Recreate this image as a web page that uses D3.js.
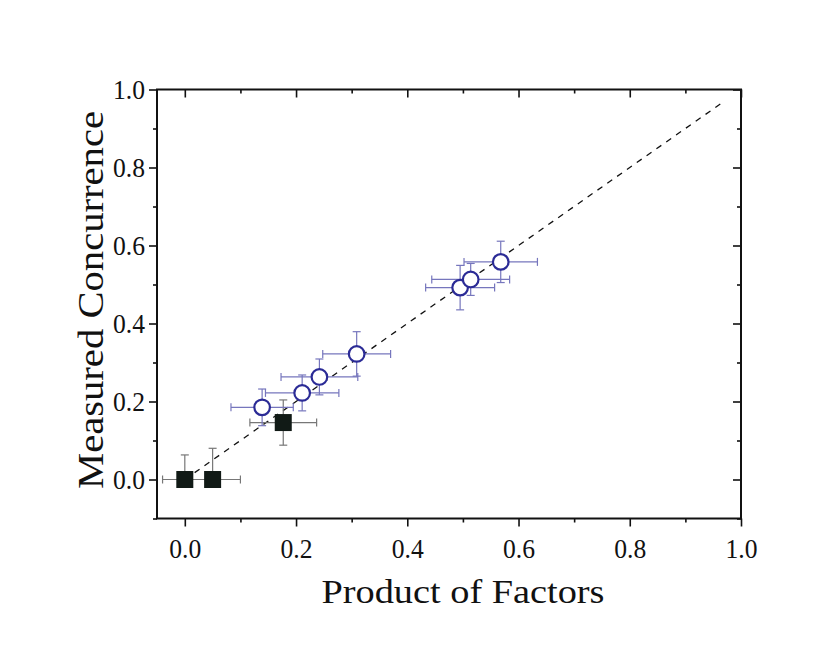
<!DOCTYPE html>
<html>
<head>
<meta charset="utf-8">
<script src="https://cdn.jsdelivr.net/npm/d3@7/dist/d3.min.js"></script>
<style>
  html, body { margin: 0; padding: 0; background: #fff; }
  svg text { font-family: "Liberation Serif", "DejaVu Serif", serif; fill: #111; }
</style>
</head>
<body>
<svg id="chart" width="830" height="668"></svg>
<script>
// ---- Data ----
// Filled squares
const sqX    = [0.000, 0.050, 0.177];
const sqY    = [0.000, 0.000, 0.146];
const sqXErr = [0.040, 0.050, 0.060];
const sqYUp  = [0.063, 0.080, 0.058];
const sqYDn  = [0.000, 0.000, 0.058];
// Open circles
const ciX    = [0.139, 0.211, 0.242, 0.309, 0.495, 0.514, 0.568];
const ciY    = [0.185, 0.222, 0.263, 0.322, 0.492, 0.513, 0.558];
const ciXErr = [0.056, 0.066, 0.069, 0.061, 0.062, 0.070, 0.066];
const ciYErr = [0.047, 0.046, 0.046, 0.057, 0.057, 0.041, 0.053];
// Reference line y = x
const lineX  = [0.0, 0.97];
// Ticks
const majorTicks = [0.0, 0.2, 0.4, 0.6, 0.8, 1.0];
const xMinor = [0.1, 0.3, 0.5, 0.7, 0.9];
const yMinor = [-0.1, 0.1, 0.3, 0.5, 0.7, 0.9];
const tickLabels = ["0.0", "0.2", "0.4", "0.6", "0.8", "1.0"];
const xTitle = "Product of Factors";
const yTitle = "Measured Concurrence";

// ---- Layout ----
const L = 157, R = 741, T = 89.5, B = 518.5;
const x = d3.scaleLinear().domain([-0.05, 1.0]).range([L, R]);
const y = d3.scaleLinear().domain([-0.1, 1.0]).range([B, T]);

const svg = d3.select("#chart");

function addAxis(axisGen, transform) {
  const g = svg.append("g").attr("transform", transform).call(axisGen);
  g.select(".domain").remove();
  g.attr("font-family", null).attr("font-size", null);
  g.selectAll("line").attr("stroke", "#111").attr("stroke-width", 1.6);
  return g;
}
const fmt = (d) => tickLabels[majorTicks.indexOf(d)] ?? "";

function styleLabels(g) {
  g.selectAll("text")
    .style("font-family", "'Liberation Serif', serif")
    .style("font-size", "27px")
    .style("fill", "#111")
    .attr("textLength", 32)
    .attr("lengthAdjust", "spacingAndGlyphs");
}

// bottom
const bx = addAxis(d3.axisBottom(x).tickValues(majorTicks).tickFormat(fmt).tickSize(8).tickPadding(0), `translate(0,${B})`);
styleLabels(bx);
bx.selectAll("text").attr("dy", null).attr("y", 39);
addAxis(d3.axisBottom(x).tickValues(xMinor).tickFormat("").tickSize(4), `translate(0,${B})`);
// left
const ly = addAxis(d3.axisLeft(y).tickValues(majorTicks).tickFormat(fmt).tickSize(8).tickPadding(4), `translate(${L},0)`);
styleLabels(ly);
ly.selectAll("text").attr("dy", "0.34em");
addAxis(d3.axisLeft(y).tickValues(yMinor).tickFormat("").tickSize(4), `translate(${L},0)`);
// top (inward)
addAxis(d3.axisBottom(x).tickValues(majorTicks).tickFormat("").tickSize(8), `translate(0,${T})`);
addAxis(d3.axisBottom(x).tickValues(xMinor).tickFormat("").tickSize(4), `translate(0,${T})`);
// right (inward)
addAxis(d3.axisLeft(y).tickValues(majorTicks).tickFormat("").tickSize(8), `translate(${R},0)`);
addAxis(d3.axisLeft(y).tickValues(yMinor).tickFormat("").tickSize(4), `translate(${R},0)`);

// Frame
svg.append("rect").attr("x", L).attr("y", T).attr("width", R - L).attr("height", B - T)
  .attr("fill", "none").attr("stroke", "#111").attr("stroke-width", 2);

// Dashed y = x line
svg.append("line")
  .attr("x1", x(lineX[0])).attr("y1", y(lineX[0]))
  .attr("x2", x(lineX[1])).attr("y2", y(lineX[1]))
  .attr("stroke", "#111").attr("stroke-width", 1.3).attr("stroke-dasharray", "6,6");

function errorBars(xs, ys, xl, xr, yd, yu, color) {
  const g = svg.append("g").attr("stroke", color).attr("stroke-width", 1.2).attr("fill", "none");
  const cap = 4;
  xs.forEach((xv, i) => {
    const cx = x(xv), cy = y(ys[i]);
    const x0 = x(xv - xl[i]), x1 = x(xv + xr[i]);
    const y0 = y(ys[i] - yd[i]), y1 = y(ys[i] + yu[i]);
    g.append("line").attr("x1", x0).attr("x2", x1).attr("y1", cy).attr("y2", cy);
    g.append("line").attr("x1", x0).attr("x2", x0).attr("y1", cy - cap).attr("y2", cy + cap);
    g.append("line").attr("x1", x1).attr("x2", x1).attr("y1", cy - cap).attr("y2", cy + cap);
    g.append("line").attr("x1", cx).attr("x2", cx).attr("y1", y0).attr("y2", y1);
    if (yu[i] > 0) g.append("line").attr("x1", cx - cap).attr("x2", cx + cap).attr("y1", y1).attr("y2", y1);
    if (yd[i] > 0) g.append("line").attr("x1", cx - cap).attr("x2", cx + cap).attr("y1", y0).attr("y2", y0);
  });
}

errorBars(sqX, sqY, sqXErr, sqXErr, sqYDn, sqYUp, "#777777");
errorBars(ciX, ciY, ciXErr, ciXErr, ciYErr, ciYErr, "#7676bd");

// Squares
svg.append("g").selectAll("rect").data(sqX).join("rect")
  .attr("x", (d) => x(d) - 8.5).attr("y", (d, i) => y(sqY[i]) - 8.5)
  .attr("width", 17).attr("height", 17)
  .attr("fill", "#111a16");

// Circles
svg.append("g").selectAll("circle").data(ciX).join("circle")
  .attr("cx", (d) => x(d)).attr("cy", (d, i) => y(ciY[i]))
  .attr("r", 7.8)
  .attr("fill", "#fff").attr("stroke", "#2b2b96").attr("stroke-width", 2.2);

// Titles
svg.append("text").attr("x", 463).attr("y", 603).attr("text-anchor", "middle")
  .style("font-size", "33px").attr("textLength", 283).attr("lengthAdjust", "spacingAndGlyphs")
  .text(xTitle);
svg.append("text").attr("transform", "translate(103,300) rotate(-90)").attr("text-anchor", "middle")
  .style("font-size", "36px").attr("textLength", 378).attr("lengthAdjust", "spacingAndGlyphs")
  .text(yTitle);
</script>
</body>
</html>
